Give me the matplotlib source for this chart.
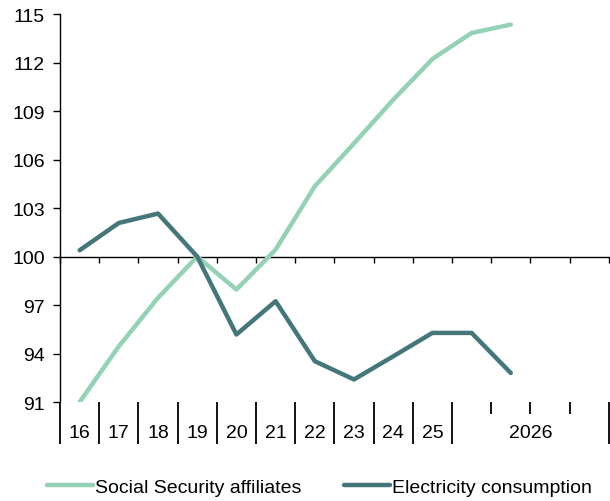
import matplotlib.pyplot as plt
from matplotlib.lines import Line2D

plt.rcParams['font.family'] = ['Liberation Sans', 'DejaVu Sans']

# x positions are interval centres: years 2016-2025, then 2026 Q1, Q2
periods = ['16', '17', '18', '19', '20', '21', '22', '23', '24', '25', '26Q1', '26Q2']
social_security = [91.0, 94.45, 97.45, 100.0, 97.96, 100.43, 104.35, 107.0, 109.7, 112.22, 113.83, 114.35]
electricity = [100.39, 102.08, 102.66, 100.0, 95.18, 97.24, 93.53, 92.4, 93.83, 95.28, 95.28, 92.8]

year_labels = ['16', '17', '18', '19', '20', '21', '22', '23', '24', '25']
yticks = [91, 94, 97, 100, 103, 106, 109, 112, 115]

light = '#93d2b4'
dark = '#44777a'
fs = 14

fig = plt.figure(figsize=(6.1, 5.02), dpi=100)
ax = fig.add_axes([0.0984, 0.197, 0.8996, 0.773])

xs = [i + 0.5 for i in range(len(periods))]
ax.plot(xs, social_security, color=light, lw=3.2, solid_capstyle='round', solid_joinstyle='round', zorder=3)
ax.plot(xs, electricity, color=dark, lw=3.2, solid_capstyle='round', solid_joinstyle='round', zorder=3)

ax.set_xlim(0, 14)
ax.set_ylim(91, 115)
ax.set_yticks(yticks)
ax.tick_params(axis='y', direction='out', length=5, width=1, labelsize=fs, pad=6)

for s in ['top', 'right']:
    ax.spines[s].set_visible(False)
ax.spines['left'].set_linewidth(1)
# horizontal axis crosses at 100
ax.spines['bottom'].set_position(('data', 100))
ax.spines['bottom'].set_linewidth(1)
ax.set_xticks(range(0, 15))
ax.tick_params(axis='x', direction='out', length=4, width=1, labelbottom=False)

# category axis below the plot
sec = ax.secondary_xaxis(0)
sec.spines['bottom'].set_visible(False)
long_ticks = list(range(0, 11)) + [14]
sec.set_xticks(long_ticks)
sec.set_xticklabels([''] * len(long_ticks))
sec.tick_params(axis='x', which='major', direction='out', length=30, width=1.3)
sec.set_xticks([i + 0.5 for i in range(10)] + [12], minor=True)
sec.set_xticklabels(year_labels + ['2026'], minor=True)
sec.tick_params(axis='x', which='minor', length=0, labelsize=fs, pad=16)

sec2 = ax.secondary_xaxis(0)
sec2.spines['bottom'].set_visible(False)
sec2.set_xticks([11, 12, 13])
sec2.set_xticklabels(['', '', ''])
sec2.tick_params(axis='x', direction='out', length=8.5, width=1.3)

handles = [Line2D([], [], color=light, lw=3.2, solid_capstyle='round'),
           Line2D([], [], color=dark, lw=3.2, solid_capstyle='round')]
fig.legend(handles, ['Social Security affiliates', 'Electricity consumption'],
           loc='center left', bbox_to_anchor=(0.077, 0.028), ncol=2, frameon=False,
           fontsize=fs, handlelength=2.35, handletextpad=0.12, columnspacing=2.2,
           borderpad=0, borderaxespad=0)

fig.savefig('out.png', dpi=100)
